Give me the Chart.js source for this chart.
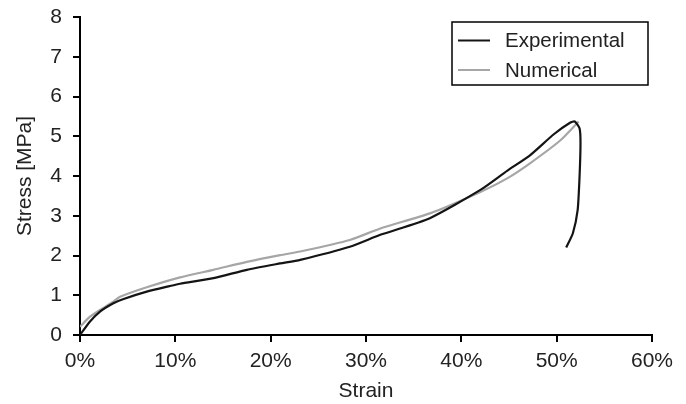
<!DOCTYPE html>
<html>
<head>
<meta charset="utf-8">
<script src="https://cdn.jsdelivr.net/npm/chart.js@4/dist/chart.umd.min.js"></script>
<style>
  html, body { margin: 0; padding: 0; background: #fff; }
  canvas { display: block; }
</style>
</head>
<body>
<canvas id="chart" width="686" height="404"></canvas>
<script>
// strain in %, stress in MPa
var expStrain = [0, 1.05, 2.1, 3.5, 4.5, 7.0, 9.4, 10.5, 14.0, 17.5, 21.0, 23.1, 28.3, 31.5, 36.7, 42.0, 44.8, 47.2, 49.7, 51.4, 51.9, 52.4, 52.5, 52.4, 52.2, 51.7, 51.0];
var expStress = [0, 0.34, 0.59, 0.8, 0.9, 1.09, 1.23, 1.29, 1.43, 1.64, 1.8, 1.89, 2.22, 2.52, 2.94, 3.65, 4.13, 4.52, 5.05, 5.34, 5.37, 5.2, 4.83, 3.98, 3.14, 2.56, 2.2];

var numStrain = [0, 1.05, 2.1, 3.5, 4.2, 7.0, 10.5, 14.0, 17.5, 21.0, 23.1, 28.3, 31.5, 36.7, 42.0, 44.8, 47.2, 50.4, 52.3];
var numStress = [0.21, 0.46, 0.63, 0.84, 0.96, 1.2, 1.45, 1.64, 1.84, 2.01, 2.1, 2.39, 2.68, 3.06, 3.6, 3.94, 4.32, 4.9, 5.37];

var xTicks = [0, 10, 20, 30, 40, 50, 60];
var yTicks = [0, 1, 2, 3, 4, 5, 6, 7, 8];

function toPoints(xs, ys) {
    return xs.map(function (x, i) { return { x: x, y: ys[i] }; });
}

var FONT = 'Liberation Sans, Arial, sans-serif';

// legend box drawn inside the plot, top right
var boxLegend = {
    id: 'boxLegend',
    afterDraw: function (chart) {
        var ctx = chart.ctx;
        var x = 452, y = 22, w = 196, h = 63;
        ctx.save();
        ctx.fillStyle = '#fff';
        ctx.fillRect(x, y, w, h);
        ctx.strokeStyle = '#000';
        ctx.lineWidth = 1.5;
        ctx.strokeRect(x, y, w, h);
        ctx.font = '20.5px ' + FONT;
        ctx.textBaseline = 'middle';
        chart.data.datasets.forEach(function (ds, i) {
            var ly = y + 18.5 + i * 29.5;
            ctx.strokeStyle = ds.borderColor;
            ctx.lineWidth = 2;
            ctx.beginPath();
            ctx.moveTo(x + 6, ly);
            ctx.lineTo(x + 38, ly);
            ctx.stroke();
            ctx.fillStyle = '#222';
            ctx.fillText(ds.label, x + 53, ly + 1);
        });
        ctx.restore();
    }
};

new Chart(document.getElementById('chart'), {
    type: 'scatter',
    data: {
        datasets: [{
            label: 'Experimental',
            data: toPoints(expStrain, expStress),
            showLine: true,
            borderColor: '#141414',
            borderWidth: 2.2,
            pointRadius: 0,
            tension: 0.2
        }, {
            label: 'Numerical',
            data: toPoints(numStrain, numStress),
            showLine: true,
            borderColor: '#a6a6a6',
            borderWidth: 2.2,
            pointRadius: 0,
            tension: 0.2
        }]
    },
    plugins: [boxLegend],
    options: {
        responsive: false,
        animation: false,
        layout: { padding: { top: 17, right: 34, left: 0, bottom: 0 } },
        plugins: {
            legend: { display: false },
            tooltip: { enabled: false }
        },
        scales: {
            x: {
                type: 'linear',
                min: 0,
                max: 60,
                afterBuildTicks: function (axis) {
                    axis.ticks = xTicks.map(function (v) { return { value: v }; });
                },
                afterFit: function (axis) { axis.height = 69; },
                ticks: {
                    color: '#222',
                    font: { family: FONT, size: 21 },
                    padding: 7,
                    maxRotation: 0,
                    callback: function (v) { return v + '%'; }
                },
                grid: { drawOnChartArea: false, color: '#000', tickLength: 7, lineWidth: 2 },
                border: { color: '#000', width: 2 },
                title: {
                    display: true,
                    text: 'Strain',
                    color: '#222',
                    font: { family: FONT, size: 21 },
                    padding: { top: 0, bottom: 0 }
                }
            },
            y: {
                min: 0,
                max: 8,
                afterBuildTicks: function (axis) {
                    axis.ticks = yTicks.map(function (v) { return { value: v }; });
                },
                afterFit: function (axis) {
                    axis.width = 80;
                    // let the top label overhang instead of pushing the plot down
                    axis.paddingTop = 0;
                    axis.paddingBottom = 0;
                },
                ticks: {
                    color: '#222',
                    font: { family: FONT, size: 21 },
                    padding: 11
                },
                grid: { drawOnChartArea: false, color: '#000', tickLength: 7, lineWidth: 2 },
                border: { color: '#000', width: 2 },
                title: {
                    display: true,
                    text: 'Stress [MPa]',
                    color: '#222',
                    font: { family: FONT, size: 21 },
                    padding: { top: 13, bottom: 0 }
                }
            }
        }
    }
});
</script>
</body>
</html>
